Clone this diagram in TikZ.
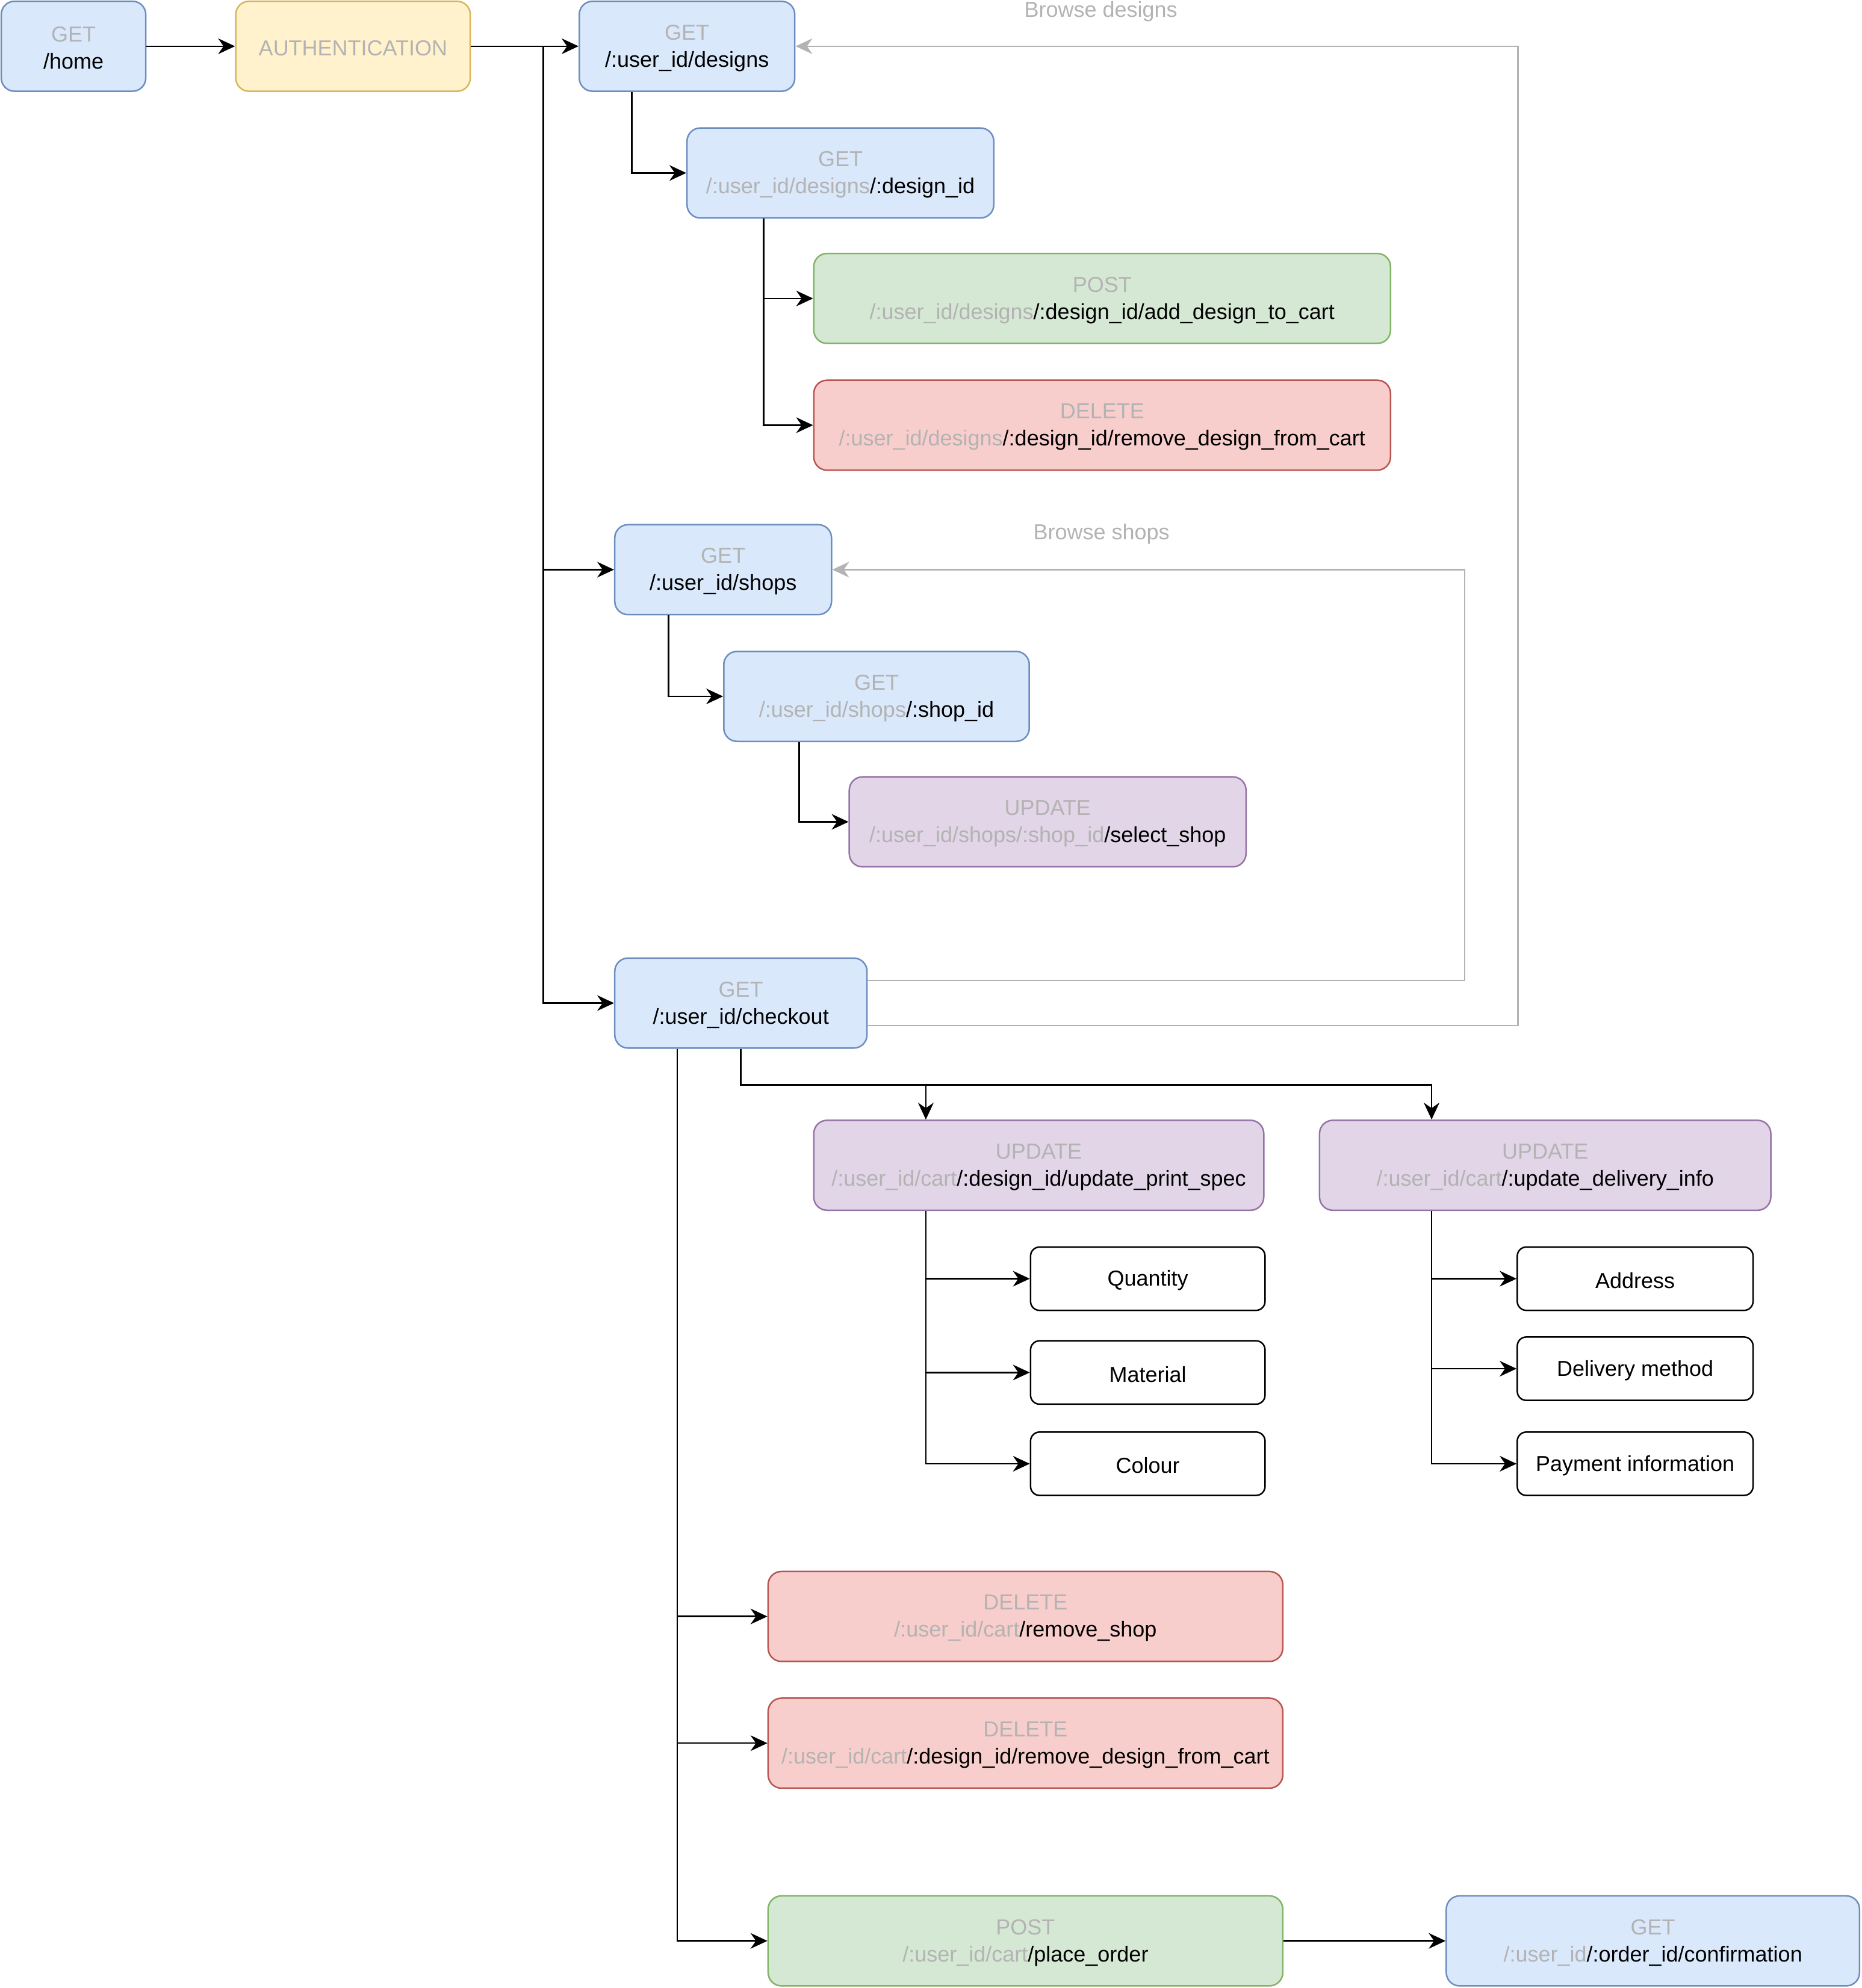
\documentclass[tikz,border=0pt]{standalone}
\usepackage{fontspec}
\setmainfont{Liberation Sans}
\usetikzlibrary{arrows.meta,calc}
\definecolor{bfill}{HTML}{DAE8FC}\definecolor{bline}{HTML}{6C8EBF}
\definecolor{yfill}{HTML}{FFF2CC}\definecolor{yline}{HTML}{D6B656}
\definecolor{gfill}{HTML}{D5E8D4}\definecolor{gline}{HTML}{82B366}
\definecolor{rfill}{HTML}{F8CECC}\definecolor{rline}{HTML}{B85450}
\definecolor{pfill}{HTML}{E1D5E7}\definecolor{pline}{HTML}{9673A6}
\definecolor{gtxt}{HTML}{B3B3B3}
\newcommand\gt[1]{\textcolor{gtxt}{#1}}
\newcommand\fs{\fontsize{36}{45}\selectfont}
\newcommand\bx[7]{\node[#6, minimum width={(#4-#2)*2.1056pt}, minimum height={(#5-#3)*2.1056pt}] (#1) at ({(#2+#4)/2},{(#3+#5)/2}) {};
  \node[boxtext] (#1-t) at ([yshift=-3pt]#1.center) {#7};}
\tikzset{
  box/.style={draw, rounded corners=22pt, line width=2.5pt, inner sep=0pt},
  boxtext/.style={align=center, inner sep=0pt, font=\fs},
  bluebox/.style={box, fill=bfill, draw=bline},
  yellowbox/.style={box, fill=yfill, draw=yline},
  greenbox/.style={box, fill=gfill, draw=gline},
  redbox/.style={box, fill=rfill, draw=rline},
  purplebox/.style={box, fill=pfill, draw=pline},
  whitebox/.style={box, fill=white, draw=black, rounded corners=15pt},
  arr/.style={-{Stealth[length=28pt,width=26pt,inset=9pt]}, line width=2.5pt, draw=black},
  grayarr/.style={-{Stealth[length=28pt,width=26pt,inset=9pt]}, line width=2.5pt, draw=gtxt, color=gtxt},
  lbl/.style={font=\fs, text=gtxt, inner sep=0pt}
}
\begin{document}
\begin{tikzpicture}[x=2.1056pt,y=-2.1056pt]
\useasboundingbox (0,0) rectangle (1468.9,1568.7);
\bx{home}{1}{1}{115}{72}{bluebox}{\gt{GET}\\/home}
\bx{auth}{186}{1}{371}{72}{yellowbox}{\gt{AUTHENTICATION}}
\bx{designs}{457}{1}{627}{72}{bluebox}{\gt{GET}\\/:user\_id/designs}
\bx{designid}{542}{101}{784}{172}{bluebox}{\gt{GET}\\\gt{/:user\_id/designs}/:design\_id}
\bx{post1}{642}{200}{1097}{271}{greenbox}{\gt{POST}\\\gt{/:user\_id/designs}/:design\_id/add\_design\_to\_cart}
\bx{del1}{642}{300}{1097}{371}{redbox}{\gt{DELETE}\\\gt{/:user\_id/designs}/:design\_id/remove\_design\_from\_cart}
\bx{shops}{485}{414}{656}{485}{bluebox}{\gt{GET}\\/:user\_id/shops}
\bx{shopid}{571}{514}{812}{585}{bluebox}{\gt{GET}\\\gt{/:user\_id/shops}/:shop\_id}
\bx{selshop}{670}{613}{983}{684}{purplebox}{\gt{UPDATE}\\\gt{/:user\_id/shops/:shop\_id}/select\_shop}
\bx{checkout}{485}{756}{684}{827}{bluebox}{\gt{GET}\\/:user\_id/checkout}
\bx{printspec}{642}{884}{997}{955}{purplebox}{\gt{UPDATE}\\\gt{/:user\_id/cart}/:design\_id/update\_print\_spec}
\bx{delivery}{1041}{884}{1397}{955}{purplebox}{\gt{UPDATE}\\\gt{/:user\_id/cart}/:update\_delivery\_info}
\bx{quantity}{813}{984}{998}{1034}{whitebox}{Quantity}
\bx{material}{813}{1058}{998}{1108}{whitebox}{Material}
\bx{colour}{813}{1130}{998}{1180}{whitebox}{Colour}
\bx{address}{1197}{984}{1383}{1034}{whitebox}{Address}
\bx{delmethod}{1197}{1055}{1383}{1105}{whitebox}{Delivery method}
\bx{payment}{1197}{1130}{1383}{1180}{whitebox}{Payment information}
\bx{rmshop}{606}{1240}{1012}{1311}{redbox}{\gt{DELETE}\\\gt{/:user\_id/cart}/remove\_shop}
\bx{rmdesign}{606}{1340}{1012}{1411}{redbox}{\gt{DELETE}\\\gt{/:user\_id/cart}/:design\_id/remove\_design\_from\_cart}
\bx{place}{606}{1496}{1012}{1567}{greenbox}{\gt{POST}\\\gt{/:user\_id/cart}/place\_order}
\bx{confirm}{1141}{1496}{1467}{1567}{bluebox}{\gt{GET}\\\gt{/:user\_id}/:order\_id/confirmation}
\node[lbl] (bdes) at (868.5,9) {Browse designs};
\node[lbl] (bshp) at (869,421.5) {Browse shops};
% gray loops
\draw[grayarr] ($(checkout.east)+(0,17.8)$) -| ($(designs.east)+(570,0)$) -- (designs.east);
\draw[grayarr] ($(checkout.east)+(0,-17.8)$) -| ($(shops.east)+(499,0)$) -- (shops.east);
% black edges
\draw[arr] (home) -- (auth);
\draw[arr] (auth) -- (designs);
\coordinate (trunk) at ($(auth.east)+(57,0)$);
\draw[arr] (trunk) |- (shops.west);
\draw[arr] (trunk) |- (checkout.west);
\draw[arr] ($(designs.south west)+(42,0)$) |- (designid.west);
\draw[arr] ($(designid.south west)+(61,0)$) |- (post1.west);
\draw[arr] ($(designid.south west)+(61,0)$) |- (del1.west);
\draw[arr] ($(shops.south west)+(43,0)$) |- (shopid.west);
\draw[arr] ($(shopid.south west)+(60,0)$) |- (selshop.west);
\draw[arr] (checkout.south) -- ++(0,28.5) -| ($(printspec.north west)+(89,0)$);
\draw[arr] (checkout.south) -- ++(0,28.5) -| ($(delivery.north west)+(89,0)$);
\draw[arr] ($(printspec.south west)+(89,0)$) |- (quantity.west);
\draw[arr] ($(printspec.south west)+(89,0)$) |- (material.west);
\draw[arr] ($(printspec.south west)+(89,0)$) |- (colour.west);
\draw[arr] ($(delivery.south west)+(89,0)$) |- (address.west);
\draw[arr] ($(delivery.south west)+(89,0)$) |- (delmethod.west);
\draw[arr] ($(delivery.south west)+(89,0)$) |- (payment.west);
\draw[arr] ($(checkout.south west)+(50,0)$) |- (rmshop.west);
\draw[arr] ($(checkout.south west)+(50,0)$) |- (rmdesign.west);
\draw[arr] ($(checkout.south west)+(50,0)$) |- (place.west);
\draw[arr] (place) -- (confirm);
\end{tikzpicture}
\end{document}
